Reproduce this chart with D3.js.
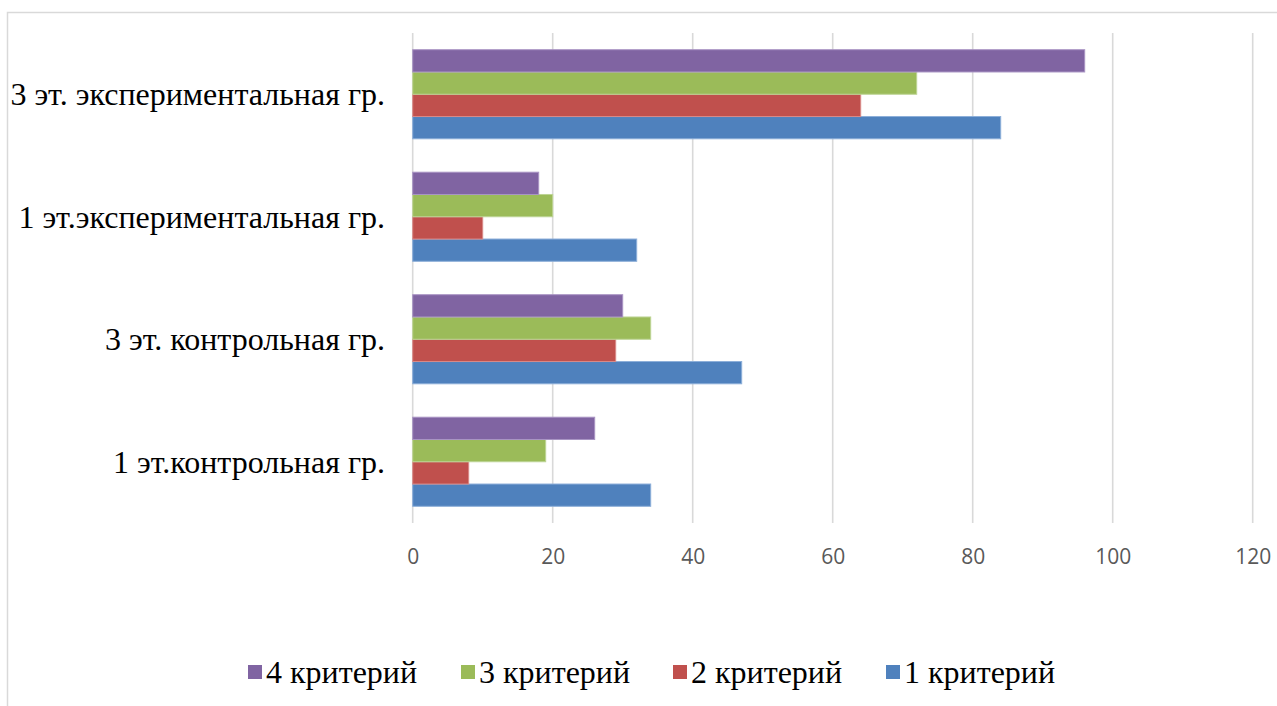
<!DOCTYPE html>
<html>
<head>
<meta charset="utf-8">
<script src="https://cdn.jsdelivr.net/npm/d3@7"></script>
<style>
html,body{margin:0;padding:0;background:#fff;overflow:hidden;}
.serif{font-family:"Liberation Serif";}
</style>
</head>
<body>
<svg id="chart" width="1277" height="706"></svg>
<script>
const categories = ["1 эт.контрольная гр.", "3 эт. контрольная гр.", "1 эт.экспериментальная гр.", "3 эт. экспериментальная гр."];
const seriesNames = ["1 критерий", "2 критерий", "3 критерий", "4 критерий"];
const seriesColors = ["#4F81BD", "#C0504D", "#9BBB59", "#8064A2"];
const seriesStroke = ["#8DAFD9", "#D98A88", "#BDD494", "#A994C4"];
const crit1 = [34, 47, 32, 84];
const crit2 = [8, 29, 10, 64];
const crit3 = [19, 34, 20, 72];
const crit4 = [26, 30, 18, 96];
const xTicks = [0, 20, 40, 60, 80, 100, 120];
const legendOrder = [3, 2, 1, 0];

const values = [crit1, crit2, crit3, crit4];
const svg = d3.select("#chart");

// frame
svg.append("rect").attr("x", 7.5).attr("y", 12.5).attr("width", 1300).attr("height", 720)
  .attr("fill", "none").attr("stroke", "#d9d9d9").attr("stroke-width", 1.5);

const x = d3.scaleLinear().domain([0, 120]).range([412.7, 1252.7]);
const y = d3.scaleBand().domain(categories).range([523, 33])
  .paddingInner(1.5 / 5.5).paddingOuter(0.75 / 5.5);
const ySub = d3.scaleBand().domain(d3.range(4)).range([y.bandwidth(), 0]);

// gridlines
svg.append("g").selectAll("line").data(xTicks).join("line")
  .attr("x1", d => x(d)).attr("x2", d => x(d))
  .attr("y1", 33).attr("y2", 523)
  .attr("stroke", "#d9d9d9").attr("stroke-width", 1.6);

// axis labels
const axis = d3.axisBottom(x).tickValues(xTicks).tickSize(0).tickPadding(0);
const ax = svg.append("g").attr("transform", "translate(0,557)").call(axis);
ax.select(".domain").remove();
ax.selectAll("text").attr("font-family", "'Open Sans', sans-serif").attr("font-size", 21)
  .attr("fill", "#595959").attr("dy", "0.35em");

// bars
values.forEach((vals, s) => {
  svg.append("g").selectAll("rect").data(vals).join("rect")
    .attr("x", x(0))
    .attr("y", (d, i) => y(categories[i]) + ySub(s))
    .attr("width", d => x(d) - x(0))
    .attr("height", ySub.bandwidth())
    .attr("fill", seriesColors[s])
    .attr("stroke", seriesStroke[s]).attr("stroke-width", 1);
});

// category labels
svg.append("g").selectAll("text").data(categories).join("text")
  .attr("class", "serif")
  .attr("x", 385)
  .attr("y", d => y(d) + y.bandwidth() / 2)
  .attr("dy", "0.35em")
  .attr("text-anchor", "end")
  .attr("font-size", 32)
  .attr("fill", "#000")
  .text(d => d);

// legend
const legX = [248, 461, 673, 886];
const lg = svg.append("g");
legendOrder.forEach((s, k) => {
  lg.append("rect").attr("x", legX[k]).attr("y", 665).attr("width", 14).attr("height", 14)
    .attr("fill", seriesColors[s]);
  lg.append("text").attr("class", "serif").attr("x", legX[k] + 18).attr("y", 672).attr("dy", "0.35em")
    .attr("font-size", 32).attr("fill", "#000").text(seriesNames[s]);
});
</script>
</body>
</html>
